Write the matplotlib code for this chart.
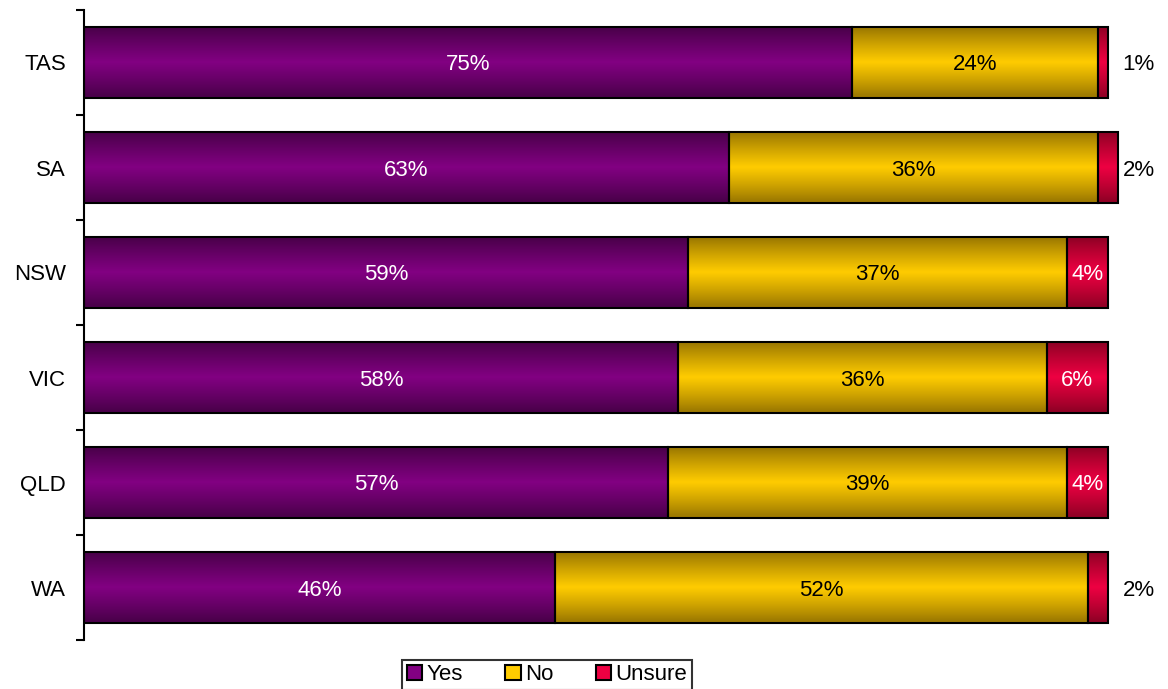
import matplotlib.pyplot as plt
import numpy as np
from matplotlib.patches import Patch
from matplotlib.colors import LinearSegmentedColormap

# Survey results by state (percent)
states = ["TAS", "SA", "NSW", "VIC", "QLD", "WA"]
yes = [75, 63, 59, 58, 57, 46]
no = [24, 36, 37, 36, 39, 52]
unsure = [1, 2, 4, 6, 4, 2]

series = ["Yes", "No", "Unsure"]
# (edge shade, centre shade) for the shaded bar fill
shades = {
    "Yes": ("#4c004c", "#820082"),
    "No": ("#a07c00", "#ffcc00"),
    "Unsure": ("#940026", "#ee0042"),
}
text_col = {"Yes": "white", "No": "black", "Unsure": "white"}

plt.rcParams['font.family'] = ['Liberation Sans', 'DejaVu Sans']
fs = 16

fig = plt.figure(figsize=(11.68, 6.89), dpi=100)
ax = fig.add_axes([84 / 1168, 1 - 640 / 689, 1 - 84 / 1168, 630 / 689])

y = np.arange(len(states))[::-1]
h = 0.68
left = np.zeros(len(states))

# vertical profile: dark at top/bottom, bright through the middle
t = np.linspace(-1, 1, 101)
prof = np.clip(1 - np.abs(t) * 1.1, 0, 1) ** 0.9
grad = prof[:, None]

for name, vals in zip(series, [yes, no, unsure]):
    vals = np.array(vals, dtype=float)
    bars = ax.barh(y, vals, height=h, left=left, facecolor="none",
                   edgecolor="black", linewidth=1.5, zorder=3)
    cmap = LinearSegmentedColormap.from_list(name, shades[name])
    for b in bars:
        x0, y0 = b.get_x(), b.get_y()
        im = ax.imshow(grad, cmap=cmap, vmin=0, vmax=1, aspect="auto",
                       extent=[x0, x0 + b.get_width(), y0, y0 + b.get_height()],
                       interpolation="bilinear", zorder=2)
        im.set_clip_path(b)
    for yi, l, v in zip(y, left, vals):
        if name == "Unsure" and v < 3:
            ax.text(103.0, yi, f"{v:.0f}%", ha="center", va="center_baseline",
                    fontsize=fs, color="black")
        else:
            ax.text(l + v / 2, yi, f"{v:.0f}%", ha="center",
                    va="center_baseline", fontsize=fs,
                    color=text_col[name], zorder=4)
    left += vals

ax.set_xlim(0, (1168 - 84) / 10.24)
ax.set_ylim(-0.5, len(states) - 0.5)
for s in ["top", "right", "bottom"]:
    ax.spines[s].set_visible(False)
ax.spines["left"].set_linewidth(1.5)
ax.set_xticks([])
ax.set_yticks(y)
ax.set_yticklabels(states, fontsize=fs)
ax.set_yticks(np.arange(-0.5, len(states)), minor=True)
ax.tick_params(axis="y", which="major", length=0, pad=13)
ax.tick_params(axis="y", which="minor", length=6, width=1.5, direction="out")

handles = [Patch(facecolor=shades[n][1], edgecolor="black", linewidth=1.5)
           for n in series]
leg = fig.legend(handles, series, loc="upper center",
                 bbox_to_anchor=(547 / 1168, 1 - 660 / 689), ncol=3,
                 fontsize=fs, frameon=True, fancybox=False,
                 handlelength=0.7, handleheight=0.7, handletextpad=0.2,
                 columnspacing=1.9, borderpad=0.2, borderaxespad=0)
leg.get_frame().set_edgecolor("black")
leg.get_frame().set_linewidth(1.5)

fig.savefig("out.png", dpi=100)
